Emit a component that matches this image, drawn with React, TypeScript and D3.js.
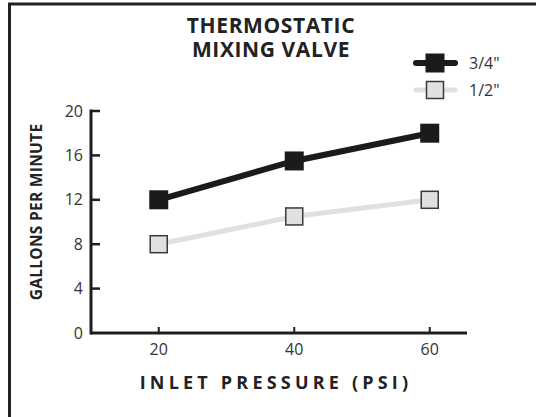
import React, { useEffect, useRef } from 'react';
import * as d3 from 'd3';

const pressures = [20, 40, 60];
const flow34 = [12, 15.5, 18];
const flow12 = [8, 10.5, 12];
const yTicks = [0, 4, 8, 12, 16, 20];
const seriesNames = ['3/4"', '1/2"'];

const FONT = "'Open Sans', 'DejaVu Sans', sans-serif";

export default function App() {
  const ref = useRef<SVGSVGElement | null>(null);
  useEffect(() => {
    const svg = d3.select(ref.current);
    svg.selectAll('*').remove();
    const width = 536, height = 417;
    svg.attr('viewBox', `0 0 ${width} ${height}`);

    svg.append('rect').attr('width', width).attr('height', height).attr('fill', '#fff');
    // frame (runs off the right and bottom edges)
    svg.append('rect')
      .attr('x', 9.5).attr('y', 4).attr('width', 560).attr('height', 460)
      .attr('fill', 'none').attr('stroke', '#222').attr('stroke-width', 3);

    const x = d3.scaleLinear().domain([10, 65.5]).range([91, 467]);
    const y = d3.scaleLinear().domain([0, 20]).range([333, 111]);

    const axisColor = '#1e1e1e';
    const g = svg.append('g');
    // y axis
    g.append('line').attr('x1', x(10)).attr('x2', x(10)).attr('y1', y(20) - 1.5).attr('y2', y(0) + 1.5)
      .attr('stroke', axisColor).attr('stroke-width', 3);
    g.selectAll('.yt').data(yTicks.filter(d => d > 0)).join('line')
      .attr('x1', x(10)).attr('x2', x(10) + 9)
      .attr('y1', d => y(d)).attr('y2', d => y(d))
      .attr('stroke', axisColor).attr('stroke-width', 2.5);
    g.selectAll('.yl').data(yTicks).join('text')
      .attr('x', 83).attr('y', d => y(d)).attr('dy', '0.35em')
      .attr('text-anchor', 'end').attr('font-family', FONT).attr('font-size', 16)
      .attr('fill', '#333').text(d => d);
    // x axis
    g.append('line').attr('x1', x(10)).attr('x2', 467).attr('y1', y(0)).attr('y2', y(0))
      .attr('stroke', axisColor).attr('stroke-width', 3);
    g.selectAll('.xt').data(pressures).join('line')
      .attr('x1', d => x(d)).attr('x2', d => x(d))
      .attr('y1', y(0)).attr('y2', y(0) - 6)
      .attr('stroke', axisColor).attr('stroke-width', 2);
    g.selectAll('.xl').data(pressures).join('text')
      .attr('x', d => x(d)).attr('y', 349).attr('dy', '0.35em')
      .attr('text-anchor', 'middle').attr('font-family', FONT).attr('font-size', 16)
      .attr('fill', '#333').text(d => d);

    // axis titles
    svg.append('text')
      .attr('transform', `translate(42,212) rotate(-90)`)
      .attr('text-anchor', 'middle').attr('font-family', FONT).attr('font-weight', 700)
      .attr('font-size', 15.5).attr('letter-spacing', 0.3).attr('fill', '#222').text('GALLONS PER MINUTE');
    svg.append('text')
      .attr('x', 276).attr('y', 389)
      .attr('text-anchor', 'middle').attr('font-family', FONT).attr('font-weight', 700)
      .attr('font-size', 18).attr('letter-spacing', 4.2).attr('fill', '#222')
      .text('INLET PRESSURE (PSI)');

    // title
    const title = svg.append('text').attr('text-anchor', 'middle').attr('font-family', FONT)
      .attr('font-weight', 700).attr('font-size', 21).attr('letter-spacing', 0.6).attr('fill', '#222');
    title.append('tspan').attr('x', 271).attr('y', 33).text('THERMOSTATIC');
    title.append('tspan').attr('x', 271).attr('y', 57).text('MIXING VALVE');

    const series = [
      { name: seriesNames[0], values: flow34, line: '#1c1a1a', fill: '#1c1a1a', lw: 6, size: 19 },
      { name: seriesNames[1], values: flow12, line: '#e0e0e0', fill: '#e0e0e0', lw: 5, size: 17 },
    ];
    const line = d3.line<number>().x((_, i) => x(pressures[i])).y(d => y(d));

    series.slice().reverse().forEach(s => {
      svg.append('path').attr('d', line(s.values)!).attr('fill', 'none')
        .attr('stroke', s.line).attr('stroke-width', s.lw);
      svg.selectAll(null).data(s.values).join('rect')
        .attr('x', (_, i) => x(pressures[i]) - s.size / 2)
        .attr('y', d => y(d) - s.size / 2)
        .attr('width', s.size).attr('height', s.size)
        .attr('fill', s.fill).attr('stroke', s.fill === '#1c1a1a' ? 'none' : '#3a3a3a')
        .attr('stroke-width', 1.5);
    });

    // legend
    series.forEach((s, i) => {
      const ly = 63 + i * 27;
      svg.append('line').attr('x1', 416).attr('x2', 455).attr('y1', ly).attr('y2', ly)
        .attr('stroke', s.line).attr('stroke-width', s.lw).attr('stroke-linecap', 'round');
      svg.append('rect').attr('x', 435 - s.size / 2).attr('y', ly - s.size / 2)
        .attr('width', s.size).attr('height', s.size).attr('fill', s.fill)
        .attr('stroke', i === 0 ? 'none' : '#3a3a3a').attr('stroke-width', 1.5);
      svg.append('text').attr('x', 469).attr('y', ly).attr('dy', '0.35em')
        .attr('font-family', FONT).attr('font-size', 16).attr('fill', '#333').text(s.name);
    });
  }, []);
  return <svg ref={ref} width={536} height={417} style={{ position: 'absolute', left: 0, top: 0 }} />;
}
